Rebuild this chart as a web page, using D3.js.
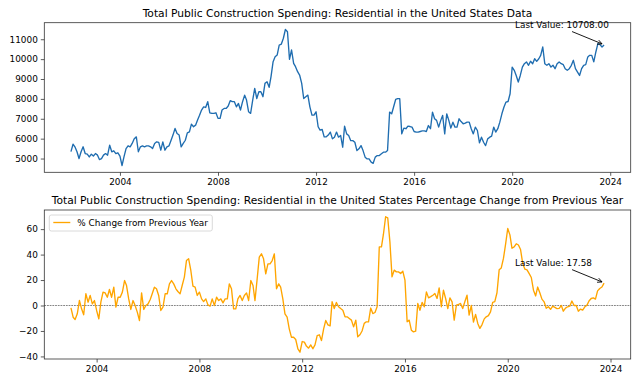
<!DOCTYPE html>
<html>
<head>
<meta charset="utf-8">
<script src="https://cdn.jsdelivr.net/npm/d3@7/dist/d3.min.js"></script>
<style>
body { margin: 0; background: #fff; }
svg text { font-family: "DejaVu Sans", sans-serif; fill: #000; }
</style>
</head>
<body>
<div id="chart"></div>
<script>
// monthly values, Jan 2002 .. Oct 2023
var spending = [
  5350, 5720, 5590, 5340, 5000, 5340, 5590, 5250, 5220, 5080, 5220, 5130,
  5250, 5170, 4950, 5000, 5170, 5250, 5170, 5670, 5340, 5390, 5250, 5290,
  5120, 4650, 5080, 5500, 5640, 5590, 5760, 6000, 6090, 5340, 5590, 5640,
  5590, 5640, 5640, 5590, 5500, 5760, 5840, 5810, 5420, 5840, 5420, 5590,
  5640, 5920, 6180, 6510, 6260, 6180, 5590, 5760, 5920, 6290, 6340, 6730,
  6600, 6680, 6930, 7180, 7440, 7600, 7570, 7860, 7300, 7270, 7270, 7300,
  7020, 7020, 7440, 7520, 7520, 7640, 7910, 7860, 7860, 7600, 7770, 7440,
  7860, 8190, 7940, 7350, 7270, 7940, 8530, 8020, 8360, 8360, 8110, 8780,
  8860, 8580, 9120, 9870, 10120, 10210, 10710, 10750, 11050, 11490, 11380, 9990,
  10460, 9790, 9620, 9370, 9200, 8780, 8020, 8110, 8190, 7600, 7180, 7180,
  7350, 6600, 6430, 6460, 6090, 6090, 6180, 6330, 5990, 6075, 6330, 6075,
  6160, 5570, 6630, 6240, 6160, 5900, 5900, 5820, 5400, 5490, 5650, 5400,
  5070, 4980, 4980, 4820, 4760, 5070, 5150, 5150, 5240, 5320, 5320, 5400,
  7335, 7250, 7590, 7970, 8010, 8010, 6240, 6530, 6500, 6630, 6610, 6580,
  6360, 6330, 6330, 6360, 6390, 6390, 6360, 6660, 6500, 7335, 7000, 6920,
  6580, 6920, 7170, 6240, 7250, 6920, 6530, 6830, 6580, 6580, 7000, 6860,
  6750, 6780, 6830, 6830, 6500, 6240, 6580, 6410, 5790, 6075, 5820, 5650,
  5990, 6075, 6130, 6580, 6330, 6500, 6830, 7250, 7590, 7840, 7870, 8260,
  9600, 9440, 9180, 8850, 9180, 9600, 9770, 9860, 9690, 9890, 9770, 10020,
  9890, 10020, 10190, 10610, 9770, 9690, 9770, 9600, 9690, 9520, 9770, 9860,
  9770, 9720, 9520, 9440, 9520, 9690, 9940, 9520, 9350, 9180, 9520, 9690,
  9720, 10110, 10190, 10190, 9860, 10360, 10780, 10730, 10610, 10708
];

// % change from previous year, Jan 2003 .. Oct 2023
var pctChange = [
  -1.8, -9.2, -11, -6.5, 3.9, -2.6, -7.3, 9.2, 2.6, 7.9, 1.3, 3.9,
  -3.9, -10.5, 2.6, 10.5, 9.9, 6.5, 12.6, 6.5, 14.4, -1.3, 6.5, 6.5,
  10.5, 19.6, 15.7, 5.2, -3.1, 3.9, 0, -5.2, -11.8, 9.9, -3.1, 0,
  1.3, 4.7, 9.2, 14.4, 13.1, 7.9, -3.9, -1.3, 9.2, 9.2, 17, 19.6,
  17, 13.1, 11, 9.2, 15.7, 22.3, 35.3, 36.7, 27.5, 15.2, 14.4, 7.9,
  10.5, 5.2, 3.1, 5.2, 0.5, -0.5, 5.2, 0, 6.5, 3.9, 5.2, 2.1,
  5.2, 5.2, 17, 13.1, -2.6, -2.6, 5.2, 7.9, 3.9, 7.9, 9.9, 3.9,
  19.6, 15.7, 3.9, 20.9, 38, 40.6, 36.7, 24.9, 32.7, 32.7, 35.3, 40.6,
  13.1, 17, 14.4, 5.2, -6.5, -9.2, -18.3, -24.9, -24.9, -26.7, -34, -36.7,
  -28.3, -28.8, -31.9, -33.5, -30.9, -34, -30.9, -23.6, -23, -27.5, -18.3, -11.8,
  -15.2, -16, 3, -2.4, 2.4, -1, -2.4, -3.7, -8.9, -8.9, -10.2, -11.5,
  -16.8, -11.5, -24.6, -23, -20, -14, -12.8, -12.8, -2, -6.3, -5.5, -1,
  46, 46, 56, 69.7, 68.9, 50, 22.5, 27.8, 26.4, 26.4, 25.1, 27,
  19.9, -12.8, -11.5, -19.4, -20.7, -20.2, 1.6, -3.7, 2.5, -1, 10.7, 6,
  7, 8.1, 9.4, 5.5, 13.9, -1, 12, 5.5, -2.4, 6, 2.9, -11.5,
  0.3, 0.8, 1.6, -2.4, 2.9, 8.1, -7.6, 0, -13, -7, -14.1, -18,
  -15, -10.5, -8.9, -8, -5, 2.4, 3, 10, 28, 29.5, 37, 48,
  60.5, 55.5, 45, 46, 48.5, 47.5, 44, 33, 28.5, 28, 25, 22,
  12, 7.5, 14.5, 10, 5, 2.9, -2.2, -1, -3, -0.5, -1.5, -2.5,
  -2.2, 0, -4.5, -2, -1, -0.5, 3.5, 0, 0, -4.5, -2.8, -3.6,
  -1, 0.3, 3.5, 5.5, 6, 5, 11.5, 13.4, 14.5, 17.58
];

var spendingStart = [2002, 0];
var pctStart = [2003, 0];
var xTickYears = [2004, 2008, 2012, 2016, 2020, 2024];
var spendingTicks = [5000, 6000, 7000, 8000, 9000, 10000, 11000];
var pctTicks = [-40, -20, 0, 20, 40, 60];

var topTitle = "Total Public Construction Spending: Residential in the United States Data";
var bottomTitle = "Total Public Construction Spending: Residential in the United States Percentage Change from Previous Year";
var legendLabel = "% Change from Previous Year";

var width = 640, height = 384;

var svg = d3.select("#chart")
  .append("svg")
  .attr("width", width)
  .attr("height", height);

function monthly(start, values) {
  return values.map(function(v, i) {
    return { date: new Date(start[0], start[1] + i, 1), value: v };
  });
}

// matplotlib style 5% margins
function padded(ext) {
  var pad = (ext[1] - ext[0]) * 0.05;
  return [ext[0] - pad, ext[1] + pad];
}

function minusFmt(d) {
  return d < 0 ? "\u2212" + Math.abs(d) : String(d);
}

function drawPanel(o) {
  var data = monthly(o.start, o.values);
  var g = svg.append("g").attr("transform", "translate(" + o.left + "," + o.top + ")");

  var tExt = d3.extent(data, function(d) { return +d.date; });
  var x = d3.scaleTime()
    .domain(padded(tExt).map(function(t) { return new Date(t); }))
    .range([0, o.w]);
  var y = d3.scaleLinear()
    .domain(padded(d3.extent(data, function(d) { return d.value; })))
    .range([o.h, 0]);

  var xAxis = g.append("g")
    .attr("transform", "translate(0," + o.h + ")")
    .call(d3.axisBottom(x)
      .tickValues(xTickYears.map(function(yr) { return new Date(yr, 0, 1); }))
      .tickFormat(d3.timeFormat("%Y"))
      .tickSizeInner(3.5).tickSizeOuter(0).tickPadding(3));
  var yAxis = g.append("g")
    .call(d3.axisLeft(y)
      .tickValues(o.ticks)
      .tickFormat(o.fmt)
      .tickSizeInner(3.5).tickSizeOuter(0).tickPadding(3));
  [xAxis, yAxis].forEach(function(a) {
    a.select(".domain").remove();
    a.selectAll(".tick line").attr("stroke", "#333").attr("stroke-width", 0.8);
    a.selectAll(".tick text").attr("font-size", "8.9px").attr("fill", "#000")
      .style("font-family", "DejaVu Sans");
  });

  if (o.zero) {
    g.append("line")
      .attr("x1", 0).attr("x2", o.w)
      .attr("y1", y(0)).attr("y2", y(0))
      .attr("stroke", "#333")
      .attr("stroke-width", 0.6)
      .attr("stroke-dasharray", "1.8,0.9");
  }

  var line = d3.line()
    .x(function(d) { return x(d.date); })
    .y(function(d) { return y(d.value); });

  g.append("path")
    .datum(data)
    .attr("fill", "none")
    .attr("stroke", o.color)
    .attr("stroke-width", 1.35)
    .attr("stroke-linejoin", "round")
    .attr("d", line);

  // frame
  g.append("rect")
    .attr("width", o.w).attr("height", o.h)
    .attr("fill", "none")
    .attr("stroke", "#333")
    .attr("stroke-width", 0.8);

  g.append("text")
    .attr("x", o.w / 2).attr("y", -5.8)
    .attr("text-anchor", "middle")
    .attr("font-size", "10.7px")
    .text(o.title);

  // last value annotation
  var last = data[data.length - 1];
  var lx = x(last.date), ly = y(last.value);
  g.append("text")
    .attr("x", lx - 89).attr("y", ly - 17.5)
    .attr("font-size", "8.9px")
    .text("Last Value: " + d3.format(".2f")(last.value));

  var sx = lx - 32, sy = ly - 13.5, ex = lx - 2, ey = ly - 1.2;
  var ang = Math.atan2(ey - sy, ex - sx);
  var hl = 4.5, hw = 2.2;
  var bx = ex - hl * Math.cos(ang), by = ey - hl * Math.sin(ang);
  var px = -Math.sin(ang) * hw, py = Math.cos(ang) * hw;
  g.append("line")
    .attr("x1", sx).attr("y1", sy).attr("x2", ex).attr("y2", ey)
    .attr("stroke", "#000").attr("stroke-width", 0.9);
  g.append("path")
    .attr("d", "M" + (bx + px) + "," + (by + py) + "L" + ex + "," + ey + "L" + (bx - px) + "," + (by - py))
    .attr("fill", "none").attr("stroke", "#000").attr("stroke-width", 0.9);

  if (o.legend) {
    var lg = g.append("g").attr("transform", "translate(5,5)");
    lg.append("rect")
      .attr("width", 163).attr("height", 16)
      .attr("rx", 2)
      .attr("fill", "#fff").attr("fill-opacity", 0.8)
      .attr("stroke", "#d0d0d0").attr("stroke-width", 0.8);
    lg.append("line")
      .attr("x1", 4).attr("x2", 21).attr("y1", 7.5).attr("y2", 7.5)
      .attr("stroke", o.color).attr("stroke-width", 1.35);
    lg.append("text")
      .attr("x", 28).attr("y", 11)
      .attr("font-size", "8.9px")
      .text(o.legend);
  }
}

drawPanel({
  left: 44.3, top: 22.7, w: 586.4, h: 149.6,
  start: spendingStart, values: spending,
  ticks: spendingTicks, fmt: d3.format("d"),
  color: "#1f6db0", title: topTitle
});

drawPanel({
  left: 44.3, top: 210, w: 586.4, h: 149,
  start: pctStart, values: pctChange,
  ticks: pctTicks, fmt: minusFmt,
  color: "#ffa500", title: bottomTitle, zero: true, legend: legendLabel
});
</script>
</body>
</html>
